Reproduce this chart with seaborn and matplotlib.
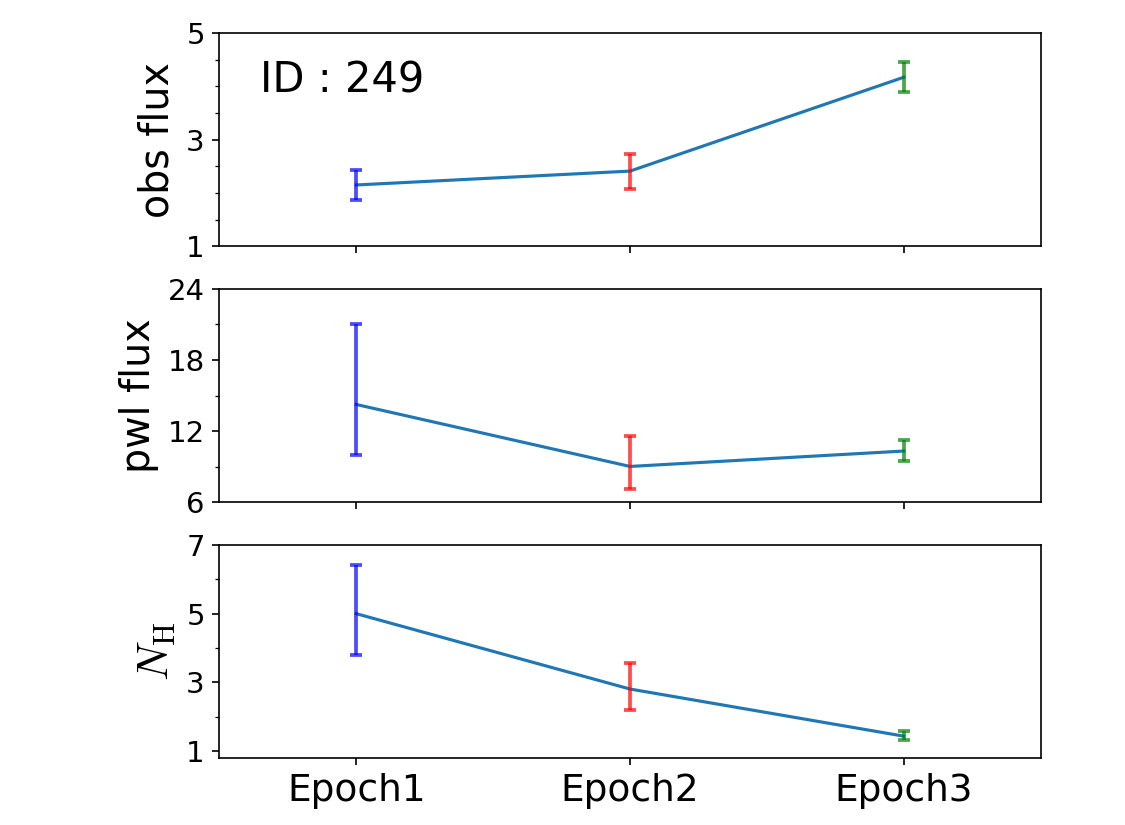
import matplotlib as mpl

mpl.use('Agg')
import matplotlib.pyplot as plt
from matplotlib.ticker import AutoMinorLocator
import numpy as np
import pandas as pd
import seaborn as sns

plt.rcParams['mathtext.fontset'] = 'cm'

#### data ####
epochs = ['Epoch1', 'Epoch2', 'Epoch3']
colors = ['blue', 'red', 'green']

obs_flux = [2.15, 2.41, 4.17]
obs_err_lo = [0.29, 0.34, 0.27]
obs_err_hi = [0.28, 0.33, 0.28]

pwl_flux = [14.25, 9.02, 10.32]
pwl_err_lo = [4.29, 1.94, 0.87]
pwl_err_hi = [6.81, 2.61, 0.91]

nh = [5.0, 2.81, 1.44]
nh_err_lo = [1.19, 0.61, 0.11]
nh_err_hi = [1.42, 0.77, 0.16]

source_id = 249
##############

panels = [
    ('obs flux', obs_flux, obs_err_lo, obs_err_hi, (1, 5), [1, 3, 5], 4),
    ('pwl flux', pwl_flux, pwl_err_lo, pwl_err_hi, (6, 24), [6, 12, 18, 24], 2),
    (r'$N_{\rm H}$', nh, nh_err_lo, nh_err_hi, (0.8, 7), [1, 3, 5, 7], 2),
]

fig, axes = plt.subplots(3, 1, figsize=(7.5, 5.5), dpi=150, sharex=True)
fig.subplots_adjust(left=0.195, right=0.925, top=0.96, bottom=0.081,
                    hspace=0.2)

for axis, (label, vals, lo, hi, ylim, yticks, minor) in zip(axes, panels):
    df = pd.DataFrame({'epoch': epochs, 'value': vals})
    sns.lineplot(data=df, x='epoch', y='value', color='C0', lw=1.5,
                 ax=axis)
    for i in range(len(epochs)):
        axis.errorbar(i, vals[i], yerr=[[lo[i]], [hi[i]]], fmt='none',
                      ecolor=colors[i], alpha=0.7, elinewidth=1.8,
                      capsize=3, capthick=1.8)
    axis.set_xlim(-0.5, 2.5)
    axis.set_yticks(yticks)
    axis.set_ylim(*ylim)
    axis.yaxis.set_minor_locator(AutoMinorLocator(minor))
    axis.set_ylabel(label, fontsize=19 if '$' not in label else 21)
    axis.set_xlabel('')
    axis.tick_params(axis='y', labelsize=14)
    axis.tick_params(axis='x', labelsize=18)

axes[0].text(0.05, 0.72, f'ID : {source_id}', transform=axes[0].transAxes,
             fontsize=20, va='baseline')

plt.savefig('out.png', dpi=150)
